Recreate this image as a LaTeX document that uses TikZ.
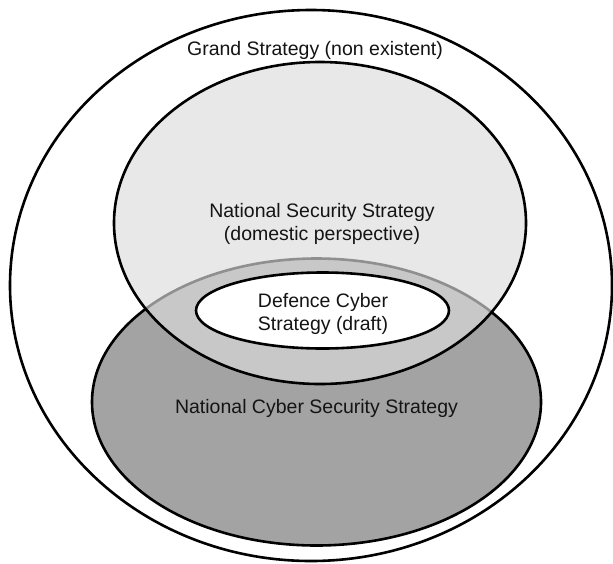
\documentclass[tikz,border=0pt]{standalone}
\usepackage{fontspec}
\setmainfont{Liberation Sans}
\begin{document}
\begin{tikzpicture}[x=1pt,y=-1pt,
  ring/.style={draw=black,line width=2.6pt},
  lbl/.style={font=\fontsize{19.5}{23}\selectfont,align=center,text=black!92,inner sep=0pt}]
\useasboundingbox (0,0) rectangle (613,563);
% outer: grand strategy
\draw[ring,fill=white] (311,285.5) ellipse [x radius=301,y radius=275.5];
% national cyber security strategy
\draw[ring,fill={rgb,255:red,163;green,163;blue,163}] (316.5,402) ellipse [x radius=224.5,y radius=143.5];
% national security strategy (semi-transparent)
\fill[fill={rgb,255:red,220;green,220;blue,220},fill opacity=0.65] (320,223) ellipse [x radius=206,y radius=161];
\draw[ring] (320,223) ellipse [x radius=206,y radius=161];
% defence cyber strategy
\draw[ring,fill=white] (322.5,310.5) ellipse [x radius=126.5,y radius=38];
% labels
\node[lbl] (gs) at (315,50) {Grand Strategy (non existent)};
\node[lbl] (nss) at (322,223.5) {National Security Strategy\\(domestic perspective)};
\node[lbl] (dcs) at (323,313.5) {Defence Cyber\\Strategy (draft)};
\node[lbl] (ncss) at (316.5,408) {National Cyber Security Strategy};
\end{tikzpicture}
\end{document}
